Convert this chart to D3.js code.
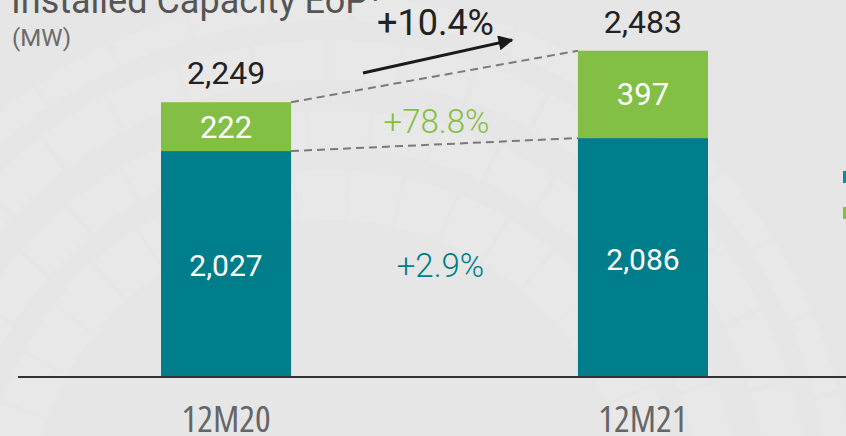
<!DOCTYPE html>
<html>
<head>
<meta charset="utf-8">
<script src="https://cdn.jsdelivr.net/npm/d3@7"></script>
<style>
  html, body { margin: 0; padding: 0; background: #e6e6e6; }
  svg { display: block; font-family: Roboto, "Open Sans", sans-serif; }
  .cond { font-family: "Open Sans", sans-serif; font-stretch: condensed; }
</style>
</head>
<body>
<div id="graf"></div>
<script>
// datos
categorias = ['12M20', '12M21']
valoresBase = [2027, 2086]     // teal
valoresExtra = [222, 397]      // verde
totales = [2249, 2483]
crecimientos = ['+10.4%', '+78.8%', '+2.9%']

anchoTotal = 846
altoTotal = 436
colorTeal = '#007d8a'
colorVerde = '#84bf45'

svg = d3.select('#graf').append('svg')
        .attr('width', anchoTotal)
        .attr('height', altoTotal)

svg.append('rect').attr('width', anchoTotal).attr('height', altoTotal).attr('fill', '#e6e6e6')

// fondo decorativo (anillos tenues)
fondo = svg.append('g').attr('transform', 'translate(330, 520)')
anillos = [[300, 350], [372, 410], [440, 480], [500, 525]]
anillos.forEach((a, k) => {
  pedazos = d3.range(-Math.PI, Math.PI, 0.16)
  fondo.selectAll(null).data(pedazos).enter().append('path')
    .attr('d', d => d3.arc().innerRadius(a[0]).outerRadius(a[1])
      .startAngle(d + k * 0.05).endAngle(d + k * 0.05 + 0.15)())
    .attr('fill', '#ebebeb')
    .attr('opacity', 0.4)
})

// escalas
x = d3.scaleBand().domain(categorias).range([161, 708]).paddingInner(0.688).paddingOuter(0)
y = d3.scaleLinear().domain([1000, 2500]).range([377, 47])

g = svg.append('g')

// barras base
g.selectAll('.base').data(categorias).enter().append('rect')
  .attr('x', d => x(d))
  .attr('width', x.bandwidth())
  .attr('y', (d, i) => y(valoresBase[i]))
  .attr('height', (d, i) => y(1000) - y(valoresBase[i]))
  .attr('fill', colorTeal)

// barras extra
g.selectAll('.extra').data(categorias).enter().append('rect')
  .attr('x', d => x(d))
  .attr('width', x.bandwidth())
  .attr('y', (d, i) => y(valoresBase[i] + valoresExtra[i]))
  .attr('height', (d, i) => y(valoresBase[i]) - y(valoresBase[i] + valoresExtra[i]))
  .attr('fill', colorVerde)

// lineas punteadas
x0 = x(categorias[0]) + x.bandwidth()
x1 = x(categorias[1])
;[[totales[0], totales[1]], [valoresBase[0], valoresBase[1]]].forEach(p => {
  g.append('line')
    .attr('x1', x0).attr('y1', y(p[0]))
    .attr('x2', x1).attr('y2', y(p[1]))
    .attr('stroke', '#7a7a7a')
    .attr('stroke-width', 2)
    .attr('stroke-dasharray', '8,5')
})

// etiquetas
fmt = d3.format(',')
g.selectAll('.tot').data(categorias).enter().append('text')
  .attr('x', d => x(d) + x.bandwidth() / 2)
  .attr('y', (d, i) => y(totales[i]) - 18)
  .attr('text-anchor', 'middle')
  .attr('font-size', '32px')
  .attr('fill', '#222')
  .text((d, i) => fmt(totales[i]))

g.selectAll('.lblExtra').data(categorias).enter().append('text')
  .attr('x', d => x(d) + x.bandwidth() / 2)
  .attr('y', (d, i) => (y(valoresBase[i]) + y(valoresBase[i] + valoresExtra[i])) / 2 + 11)
  .attr('text-anchor', 'middle')
  .attr('font-size', '31px')
  .attr('fill', '#fff')
  .text((d, i) => fmt(valoresExtra[i]))

g.selectAll('.lblBase').data(categorias).enter().append('text')
  .attr('x', d => x(d) + x.bandwidth() / 2)
  .attr('y', (d, i) => (y(valoresBase[i]) + y(1000)) / 2 + 12)
  .attr('text-anchor', 'middle')
  .attr('font-size', '30px')
  .attr('fill', '#fff')
  .text((d, i) => fmt(valoresBase[i]))

// crecimientos
xMedio = (x0 + x1) / 2
g.append('text').attr('x', xMedio + 1).attr('y', 35).attr('text-anchor', 'middle')
  .attr('font-size', '36px').attr('fill', '#222').text(crecimientos[0])
g.append('text').attr('x', xMedio + 2).attr('y', 133).attr('text-anchor', 'middle')
  .attr('font-size', '33px').attr('font-weight', 300).attr('fill', colorVerde).text(crecimientos[1])
g.append('text').attr('x', xMedio + 6).attr('y', 277).attr('text-anchor', 'middle')
  .attr('font-size', '33px').attr('font-weight', 300).attr('fill', colorTeal).text(crecimientos[2])

// flecha
svg.append('defs').append('marker')
  .attr('id', 'punta').attr('viewBox', '0 0 10 10')
  .attr('refX', 9).attr('refY', 5)
  .attr('markerWidth', 6).attr('markerHeight', 5)
  .attr('markerUnits', 'strokeWidth')
  .attr('orient', 'auto')
  .append('path').attr('d', 'M0,0 L10,5 L0,10 z').attr('fill', '#1a1a1a')
g.append('line')
  .attr('x1', 363).attr('y1', 73).attr('x2', 512).attr('y2', 40)
  .attr('stroke', '#1a1a1a').attr('stroke-width', 3)
  .attr('marker-end', 'url(#punta)')

// eje x
g.append('line').attr('x1', 18).attr('x2', anchoTotal).attr('y1', 377).attr('y2', 377)
  .attr('stroke', '#333').attr('stroke-width', 2)
ejeX = g.append('g').attr('transform', 'translate(0, 377)')
  .call(d3.axisBottom(x).tickSize(0).tickPadding(29))
ejeX.select('.domain').remove()
ejeX.selectAll('text')
  .attr('class', 'cond')
  .attr('font-size', '37px')
  .attr('font-family', null)
  .attr('fill', '#666')
  .attr('dy', '0.71em')

// titulo
svg.append('text').attr('x', 11).attr('y', 13)
  .attr('font-size', '36px').attr('fill', '#555')
  .text('Installed Capacity EoP¹')
svg.append('text').attr('x', 12).attr('y', 46)
  .attr('font-size', '24px').attr('fill', '#6b6b6b')
  .text('(MW)')

// leyenda (cortada)
leyenda = svg.append('g')
leyenda.append('rect').attr('x', 843).attr('y', 171).attr('width', 12).attr('height', 12).attr('fill', '#00909c')
leyenda.append('rect').attr('x', 843).attr('y', 207).attr('width', 12).attr('height', 12).attr('fill', colorVerde)
</script>
</body>
</html>
